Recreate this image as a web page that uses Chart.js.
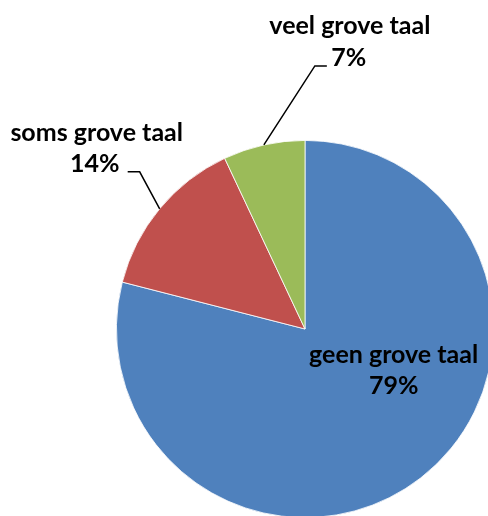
<!DOCTYPE html>
<html>
<head>
<meta charset="utf-8">
<script src="https://cdn.jsdelivr.net/npm/chart.js@4"></script>
<style>
  html, body { margin: 0; padding: 0; background: #fff; overflow: hidden; }
  #wrap { position: absolute; left: 0; top: 0; width: 510px; height: 530px; }
</style>
</head>
<body>
<div id="wrap"><canvas id="chart" width="510" height="530"></canvas></div>
<script>
// categorieen en waarden (procenten)
var categories = ["geen grove taal", "soms grove taal", "veel grove taal"];
var values = [79, 14, 7];
var colors = ["#4F81BD", "#C0504D", "#9BBB59"];

var labelFont = "bold 25px Lato";

// labels met aanwijslijnen tekenen
var labelPlugin = {
    id: "pieLabels",
    afterDatasetsDraw: function (chart) {
        var ctx = chart.ctx;
        var arcs = chart.getDatasetMeta(0).data;
        ctx.save();
        ctx.font = labelFont;
        ctx.fillStyle = "#000";
        ctx.strokeStyle = "#000";
        ctx.lineWidth = 1.5;
        ctx.textAlign = "center";
        ctx.textBaseline = "middle";

        arcs.forEach(function (arc, i) {
            var mid = (arc.startAngle + arc.endAngle) / 2;
            var R = arc.outerRadius;
            var cx = arc.x, cy = arc.y;
            var pct = values[i] + "%";

            if (i === 0) {
                // binnen de taart
                var lx = cx + 0.47 * R, ly = cy + 0.14 * R;
                ctx.fillText(categories[i], lx, ly);
                ctx.fillText(pct, lx, ly + 31);
                return;
            }

            var ex = cx + Math.cos(mid) * R;
            var ey = cy + Math.sin(mid) * R;
            ctx.beginPath();
            ctx.moveTo(ex, ey);
            if (i === 2) {
                var kx = ex + 51, ky = ey - 79;
                ctx.lineTo(kx, ky);
                ctx.lineTo(kx + 12, ky);
                ctx.stroke();
                ctx.fillText(pct, kx + 34, ky - 8);
                ctx.fillText(categories[i], kx + 35, ky - 40);
            } else {
                var kx2 = ex - 20, ky2 = ey - 37;
                ctx.lineTo(kx2, ky2);
                ctx.lineTo(kx2 - 12, ky2);
                ctx.stroke();
                ctx.fillText(pct, kx2 - 45, ky2 - 8);
                ctx.fillText(categories[i], kx2 - 43, ky2 - 39);
            }
        });
        ctx.restore();
    }
};

new Chart(document.getElementById("chart"), {
    type: "pie",
    data: {
        labels: categories,
        datasets: [{
            data: values,
            backgroundColor: colors,
            borderColor: "#ffffff",
            borderWidth: 0.8
        }]
    },
    options: {
        responsive: false,
        animation: false,
        layout: { padding: { left: 116, top: 140, right: 16, bottom: 12 } },
        plugins: {
            legend: { display: false },
            tooltip: { enabled: false }
        }
    },
    plugins: [labelPlugin]
});
</script>
</body>
</html>
